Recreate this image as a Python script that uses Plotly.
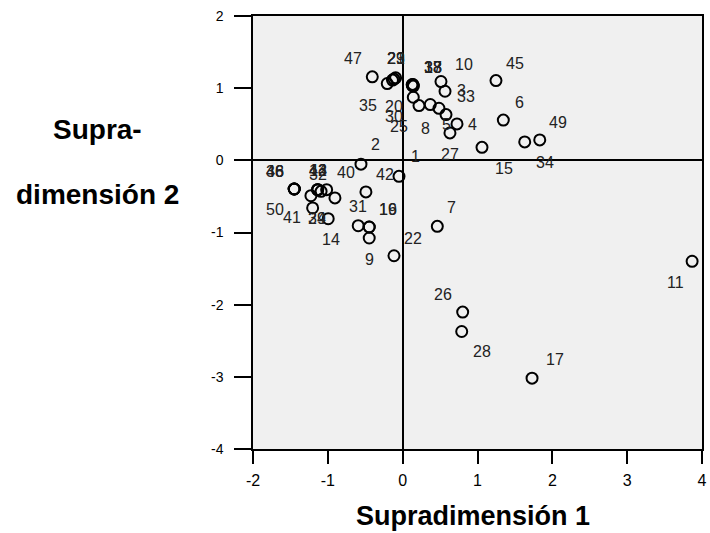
import plotly.graph_objects as go

# ---- data (object scores) ----
case_labels = [47, 35, 29, 23, 21, 13, 18, 37, 38, 20,
               30, 25, 5, 8, 33, 4, 27, 10, 3, 15,
               45, 6, 34, 49, 2, 1, 36, 46, 48, 50,
               41, 43, 44, 32, 12, 40, 39, 24, 14, 42,
               31, 19, 16, 9, 22, 7, 11, 26, 28, 17]
dim1 = [-0.406, -0.206, -0.094, -0.136, -0.116, 0.128, 0.144, 0.128, 0.138, 0.131,
        0.142, 0.218, 0.369, 0.485, 0.579, 0.726, 0.632, 0.512, 0.566, 1.060,
        1.247, 1.345, 1.631, 1.832, -0.557, -0.049, -1.449, -1.449, -1.449, -1.449,
        -1.226, -1.136, -1.136, -1.090, -1.136, -1.016, -0.905, -1.203, -0.995, -0.491,
        -0.594, -0.447, -0.447, -0.447, -0.116, 0.463, 3.868, 0.802, 0.789, 1.729]
dim2 = [1.157, 1.064, 1.143, 1.112, 1.126, 1.050, 1.029, 1.043, 1.050, 1.036,
        0.874, 0.759, 0.773, 0.721, 0.634, 0.505, 0.380, 1.092, 0.957, 0.180,
        1.105, 0.558, 0.255, 0.283, -0.053, -0.222, -0.397, -0.397, -0.397, -0.397,
        -0.490, -0.406, -0.406, -0.430, -0.406, -0.406, -0.521, -0.660, -0.809, -0.438,
        -0.906, -0.924, -0.924, -1.076, -1.322, -0.915, -1.399, -2.103, -2.372, -3.018]

x_ticks = [-2, -1, 0, 1, 2, 3, 4]
x_tick_text = ["-2", "-1", "0", "1", "2", "3", "4"]
y_ticks = [-4, -3, -2, -1, 0, 1, 2]
y_tick_text = ["-4", "-3", "-2", "-1", "0", "1", "2"]
x_title = "Supradimensión 1"
y_title_lines = ["Supra-", "dimensión 2"]

# ---- style: label offsets in screen pixels (dx right, dy down) ----
label_offsets = {
    47: (-19.6, -18), 35: (-19, 21.7), 29: (0, -19), 23: (3.2, -21.2), 21: (1.7, -20.2),
    13: (20.4, -17.3), 18: (19.2, -18.8), 37: (20.4, -17.8), 38: (19.7, -17.3),
    20: (-18.5, 20.7), 30: (-19.3, 19.6), 25: (-20, 21.3), 5: (16.4, 20), 8: (-13.3, 20.6),
    33: (20, -18.3), 4: (15.7, 0.7), 27: (0, 21.7), 10: (23.3, -17), 3: (16, -0.7),
    15: (22.3, 21.6), 45: (19, -17), 6: (15.7, -17.8), 34: (20.3, 21), 49: (18.6, -17),
    2: (15, -19.5), 1: (16.7, -19.4), 36: (-19.3, -17.6), 46: (-19.3, -17.6),
    48: (-19.3, -17.6), 50: (-19.3, 20.7), 41: (-19.3, 21.7), 43: (0.6, -19),
    44: (0.6, -19), 32: (-2.8, -17), 12: (0.6, -19), 40: (19.3, -17.3), 39: (-18.3, 21),
    24: (4, 11), 14: (2.7, 21), 42: (19, -17.3), 31: (0, -19.3), 19: (19, -17.3),
    16: (19, -17.3), 9: (0, 21.7), 22: (19.3, -17.7), 7: (14.4, -18.4), 11: (-17, 21.4),
    26: (-19.4, -18), 28: (20, 20), 17: (23, -18.3),
}

FONT = "Arial, 'Liberation Sans', sans-serif"

fig = go.Figure()
fig.add_trace(go.Scatter(
    x=dim1, y=dim2, mode="markers",
    marker=dict(symbol="circle-open", size=11, color="black", line=dict(width=2, color="black")),
    hoverinfo="text", text=[str(c) for c in case_labels], showlegend=False,
))

annotations = []
for lab, xv, yv in zip(case_labels, dim1, dim2):
    dx, dy = label_offsets[lab]
    annotations.append(dict(
        x=xv, y=yv, xref="x", yref="y", text=str(lab), showarrow=False,
        xshift=dx, yshift=-dy, font=dict(family=FONT, size=16, color="#222222"),
    ))

annotations.append(dict(
    x=0.49, y=-0.155, xref="paper", yref="paper", text=x_title, showarrow=False,
    xanchor="center", yanchor="middle", font=dict(family=FONT, size=27, color="black", weight="bold"),
))
for txt, yp in zip(y_title_lines, [0.7376, 0.587]):
    annotations.append(dict(
        x=-0.347, y=yp, xref="paper", yref="paper", text=txt, showarrow=False,
        xanchor="center", yanchor="middle", font=dict(family=FONT, size=28, color="black", weight="bold"),
    ))

axis_common = dict(
    showgrid=False, zeroline=True, zerolinecolor="black", zerolinewidth=2,
    showline=True, linecolor="black", linewidth=1.5, mirror=True,
    ticks="outside", tickcolor="black", tickwidth=2,
    automargin=False, ticklabeloverflow="allow",
)

fig.update_layout(
    width=710, height=533,
    margin=dict(l=253, r=8, t=16, b=84, autoexpand=False),
    paper_bgcolor="white", plot_bgcolor="#f0f0f0",
    font=dict(family=FONT),
    xaxis=dict(range=[-2, 4], tickvals=x_ticks, ticktext=x_tick_text, ticklen=13,
               ticklabelstandoff=3, tickfont=dict(family=FONT, size=16, color="black"),
               **axis_common),
    yaxis=dict(range=[-4, 2], tickvals=y_ticks, ticktext=y_tick_text, ticklen=17,
               ticklabelstandoff=8, tickfont=dict(family=FONT, size=14, color="black"),
               **axis_common),
    annotations=annotations,
)

# remove the default 8px page margin so the figure fills the window exactly
fig.write_html("out.html", config={"displayModeBar": False},
               post_script="document.body.style.margin='0';")
